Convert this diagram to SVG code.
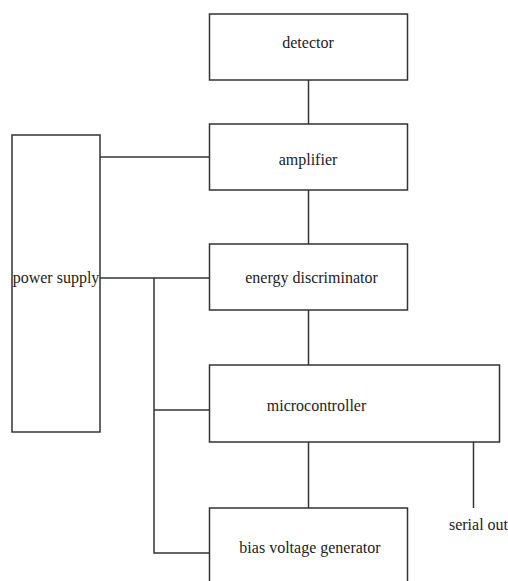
<svg xmlns="http://www.w3.org/2000/svg" width="508" height="581" viewBox="0 0 508 581">
<style>
.box{fill:#fff;stroke:#333;stroke-width:1.5}
.ln{fill:none;stroke:#333;stroke-width:1.5}
text{font-family:"Liberation Serif","Times New Roman",serif;font-size:16px;fill:#222;text-anchor:middle}
</style>
<rect width="508" height="581" fill="#fff"/>
<g id="connectors">
<line class="ln" x1="308.5" y1="80" x2="308.5" y2="124"/>
<line class="ln" x1="308.5" y1="190" x2="308.5" y2="244"/>
<line class="ln" x1="308.5" y1="310" x2="308.5" y2="365"/>
<line class="ln" x1="308.5" y1="442" x2="308.5" y2="508"/>
<line class="ln" x1="100" y1="157" x2="209.5" y2="157"/>
<line class="ln" x1="100" y1="278" x2="209.5" y2="278"/>
<polyline class="ln" points="154,278 154,553 209.5,553"/>
<line class="ln" x1="154" y1="410" x2="209.5" y2="410"/>
<line class="ln" x1="473.5" y1="442" x2="473.5" y2="508"/>
</g>
<g id="detector">
<rect class="box" x="209.5" y="14" width="198" height="66"/>
<text x="308" y="48">detector</text>
</g>
<g id="amplifier">
<rect class="box" x="209.5" y="124" width="198" height="66"/>
<text x="308" y="165">amplifier</text>
</g>
<g id="power-supply">
<rect class="box" x="12" y="135" width="88" height="297"/>
<text x="56" y="283">power supply</text>
</g>
<g id="energy-discriminator">
<rect class="box" x="209.5" y="244" width="198" height="66"/>
<text x="311.5" y="283">energy discriminator</text>
</g>
<g id="microcontroller">
<rect class="box" x="209.5" y="365" width="290" height="77"/>
<text x="316.5" y="411">microcontroller</text>
</g>
<g id="bias-voltage-generator">
<rect class="box" x="209.5" y="508" width="198" height="90"/>
<text x="310" y="553">bias voltage generator</text>
</g>
<g id="serial-out">
<text x="478.5" y="530">serial out</text>
</g>
</svg>
